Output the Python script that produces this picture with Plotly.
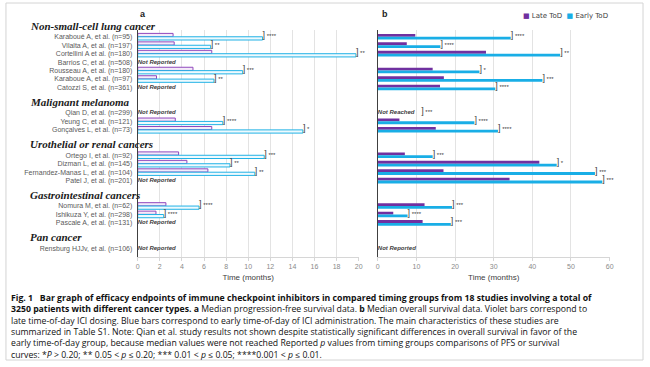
import plotly.graph_objects as go

# ---------------- data ----------------
groups = ["Non-small-cell lung cancer", "Malignant melanoma", "Urothelial or renal cancers",
          "Gastrointestinal cancers", "Pan cancer"]
group_sizes = [7, 3, 4, 3, 1]
studies = ["Karaboué A, et al. (n=95)", "Vilalta A, et al. (n=197)", "Cortellini A et al. (n=180)",
           "Barrios C, et al. (n=508)", "Rousseau A, et al. (n=180)", "Karaboue A, et al. (n=97)",
           "Catozzi S, et al. (n=361)",
           "Qian D, et al. (n=299)", "Yeung C, et al. (n=121)", "Gonçalves L, et al. (n=73)",
           "Ortego I, et al. (n=92)", "Dizman L, et al. (n=145)", "Fernandez-Manas L, et al. (n=104)",
           "Patel J, et al. (n=201)",
           "Nomura M, et al. (n=62)", "Ishikuza Y, et al. (n=298)", "Pascale A, et al. (n=131)",
           "Rensburg HJJv, et al. (n=106)"]
pfs_late = [3.2, 3.3, 6.7, None, 5.0, 1.7, None, None, 3.4, 6.7, 3.7, 4.45, 6.35, None, 2.55, 1.65, None, None]
pfs_early = [11.3, 6.6, 19.75, None, 9.5, 6.9, None, None, 7.7, 14.95, 11.45, 8.35, 10.6, None, 5.55, 2.35, None, None]
pfs_sig = ["****", "**", "**", None, "***", "**", None, None, "****", "*", "***", "**", "**", None,
           "****", "****", None, None]
pfs_note = [None, None, None, "Not Reported", None, None, "Not Reported", "Not Reported", None, None,
            None, None, None, "Not Reported", None, None, "Not Reported", "Not Reported"]
os_late = [9.7, 7.5, 28.0, None, 14.2, 17.1, 16.1, None, 5.6, 15.0, 7.0, 41.8, 17.0, 34.1, 12.1, 4.0, 11.6, None]
os_early = [34.4, 16.2, 47.2, None, 26.3, 42.6, 30.4, None, 25.0, 31.1, 14.2, 46.3, 56.2, 58.1, 19.2, 7.7, 18.9, None]
os_sig = ["****", "****", "**", None, "*", "***", "****", "***", "****", "****", "***", "*", "***", "***",
          "***", "****", "***", None]
os_note = [None, None, None, None, None, None, None, "Not Reached", None, None, None, None, None, None,
           None, None, None, "Not Reported"]
series_names = ["Late ToD", "Early ToD"]
caption_lines = [
    "<b>Fig. 1   Bar graph of efficacy endpoints of immune checkpoint inhibitors in compared timing groups from 18 studies involving a total of</b>",
    "<b>3250 patients with different cancer types. a</b> Median progression-free survival data. <b>b</b> Median overall survival data. Violet bars correspond to",
    "late time-of-day ICI dosing. Blue bars correspond to early time-of-day of ICI administration. The main characteristics of these studies are",
    "summarized in Table S1. Note: Qian et al. study results not shown despite statistically significant differences in overall survival in favor of the",
    "early time-of-day group, because median values were not reached Reported <i>p</i> values from timing groups comparisons of PFS or survival",
    "curves: *<i>P</i> &gt; 0.20; ** 0.05 &lt; <i>p</i> ≤ 0.20; *** 0.01 &lt; <i>p</i> ≤ 0.05; ****0.001 &lt; <i>p</i> ≤ 0.01.",
]

# ---------------- layout helpers ----------------
W, H = 650, 367
GAP = 2  # empty slots between groups
pos, group_start = [], []
i = 0
for g, n in enumerate(group_sizes):
    group_start.append(i + GAP * g)
    for k in range(n):
        pos.append(i + GAP * g)
        i += 1
n_slots = pos[-1]
y_top_px, y_bot_px, first_px, last_px = 30, 257, 36.7, 248.3
slot_px = (last_px - first_px) / n_slots
y_range = [n_slots + (y_bot_px - last_px) / slot_px, -(first_px - y_top_px) / slot_px]

VIOLET = "#7030A0"
BLUE = "#19AEE6"
FONT = "Liberation Sans"
SERIF = "Liberation Serif, Times New Roman, DejaVu Serif, serif"
BR = "<span style='font-size:9px'>]</span>"


def text_layer(values_a, values_b, sig, note):
    xs, ys, ts = [], [], []
    for k in range(len(pos)):
        if note[k]:
            t = "<b><i>%s</i></b>" % note[k]
            if sig[k]:
                t += "    " + BR + " " + sig[k]
            xs.append(0); ys.append(pos[k]); ts.append(t)
        elif sig[k]:
            xs.append(max(values_a[k], values_b[k])); ys.append(pos[k]); ts.append(BR + " " + sig[k])
    return xs, ys, ts


fig = go.Figure()

# panel a (outlined bars)
fig.add_trace(go.Bar(y=pos, x=pfs_late, orientation="h", width=0.38, offset=-0.39,
                     marker=dict(color="#f4ebf9", line=dict(color="#9048bd", width=1)),
                     xaxis="x", yaxis="y", showlegend=False, name=series_names[0]))
fig.add_trace(go.Bar(y=pos, x=pfs_early, orientation="h", width=0.38, offset=0.01,
                     marker=dict(color="#eefafe", line=dict(color="#22b2e6", width=1)),
                     xaxis="x", yaxis="y", showlegend=False, name=series_names[1]))
# panel b (solid bars)
fig.add_trace(go.Bar(y=pos, x=os_late, orientation="h", width=0.33, offset=-0.33,
                     marker=dict(color=VIOLET, line=dict(width=0)),
                     xaxis="x2", yaxis="y2", showlegend=False, name=series_names[0]))
fig.add_trace(go.Bar(y=pos, x=os_early, orientation="h", width=0.33, offset=0.0,
                     marker=dict(color=BLUE, line=dict(width=0)),
                     xaxis="x2", yaxis="y2", showlegend=False, name=series_names[1]))

xa, ya, ta = text_layer(pfs_late, pfs_early, pfs_sig, pfs_note)
fig.add_trace(go.Scatter(x=xa, y=ya, text=ta, mode="text", textposition="middle right",
                         textfont=dict(size=6, color="#404040", family=FONT), cliponaxis=False,
                         xaxis="x", yaxis="y", showlegend=False, hoverinfo="skip"))
xb, yb, tb = text_layer(os_late, os_early, os_sig, os_note)
fig.add_trace(go.Scatter(x=xb, y=yb, text=tb, mode="text", textposition="middle right",
                         textfont=dict(size=6, color="#404040", family=FONT), cliponaxis=False,
                         xaxis="x2", yaxis="y2", showlegend=False, hoverinfo="skip"))

ydom = [(H - y_bot_px) / H, (H - y_top_px) / H]
common_x = dict(showgrid=True, gridcolor="#e3e3e3", gridwidth=1, zeroline=False,
                showline=True, linecolor="#d6d6d6", ticks="outside", ticklen=3, tickcolor="#d6d6d6",
                tickfont=dict(size=7, color="#8a8a8a", family=FONT),
                title=dict(text="Time (months)", font=dict(size=8, color="#404040", family=FONT), standoff=4))
fig.update_layout(
    width=W, height=H, margin=dict(l=0, r=0, t=0, b=0),
    paper_bgcolor="white", plot_bgcolor="white", barmode="overlay",
    xaxis=dict(domain=[137 / W, 360 / W], range=[0, 20], dtick=2, anchor="y", **common_x),
    xaxis2=dict(domain=[379.3 / W, 613.3 / W], range=[0, 60], dtick=10, anchor="y2", **common_x),
    yaxis=dict(domain=ydom, range=y_range, tickvals=pos, ticktext=studies, showgrid=False, zeroline=False,
               showline=True, linecolor="#404040", linewidth=1, ticks="", anchor="x", ticklabelstandoff=3,
               tickfont=dict(size=7, color="#5a5a5a", family=FONT)),
    yaxis2=dict(domain=ydom, range=y_range, matches="y", showticklabels=False, showgrid=False, zeroline=False,
                showline=True, linecolor="#404040", linewidth=1, ticks="", anchor="x2"),
    showlegend=False,
)

ann = []
for g, name in enumerate(groups):
    hy = first_px + (group_start[g] - 1.3) * slot_px
    ann.append(dict(x=26 / W, xref="paper", y=(H - hy) / H, yref="paper", xanchor="left", yanchor="middle",
                    text="<b><i>%s</i></b>" % name, showarrow=False,
                    font=dict(family=SERIF, size=11, color="#1a1a1a")))
ann.append(dict(x=137 / W, y=(H - 14) / H, xref="paper", yref="paper", xanchor="left", yanchor="middle",
                text="<b>a</b>", showarrow=False, font=dict(size=9, color="#222", family=FONT)))
ann.append(dict(x=382 / W, y=(H - 14) / H, xref="paper", yref="paper", xanchor="left", yanchor="middle",
                text="<b>b</b>", showarrow=False, font=dict(size=9, color="#222", family=FONT)))
# legend
ann.append(dict(x=524 / W, y=(H - 16) / H, xref="paper", yref="paper", xanchor="left", yanchor="middle",
                text="<span style='color:%s'>■</span> %s  <span style='color:%s'>■</span> %s"
                     % (VIOLET, series_names[0], BLUE, series_names[1]),
                showarrow=False, font=dict(size=7, color="#404040", family="DejaVu Sans")))
# caption (one multi-line block)
ann.append(dict(x=7 / W, y=(H - 290) / H, xref="paper", yref="paper", xanchor="left", yanchor="top",
                align="left", text="<br>".join(caption_lines), showarrow=False,
                font=dict(size=8.7, color="#111", family="Open Sans")))
fig.update_layout(annotations=ann)

fig.add_shape(type="rect", xref="paper", yref="paper", x0=4 / W, x1=647 / W, y0=(H - 360) / H, y1=(H - 3) / H,
              line=dict(color="#d4d4d4", width=1), fillcolor="rgba(0,0,0,0)", layer="below")

fig.write_html("out.html", config={"displayModeBar": False},
               post_script="document.body.style.margin='0';")
